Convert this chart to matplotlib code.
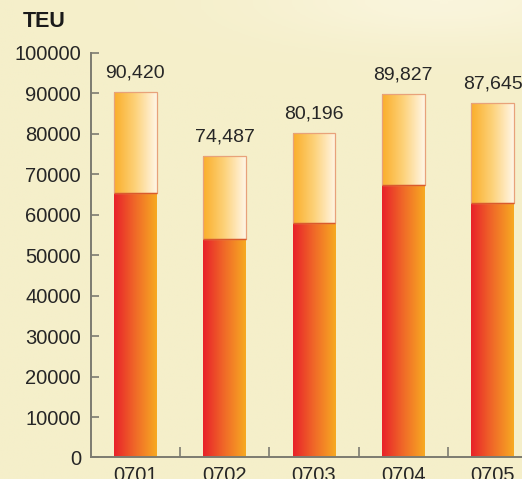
import numpy as np
import matplotlib
matplotlib.use("Agg")
import matplotlib.pyplot as plt
from matplotlib.colors import LinearSegmentedColormap

# monthly throughput, TEU
months = ["0701", "0702", "0703", "0704", "0705"]
totals = [90420, 74487, 80196, 89827, 87645]
lower = [65300, 54000, 57900, 67300, 62800]
upper = [t - l for t, l in zip(totals, lower)]

yticks = [0, 10000, 20000, 30000, 40000, 50000, 60000, 70000, 80000, 90000, 100000]

bg = "#F5EFCA"
axis_col = "#7C7B70"
text_col = "#262626"

cm_low = LinearSegmentedColormap.from_list("low", ["#E8222A", "#F06A28", "#F7A922"])
cm_up = LinearSegmentedColormap.from_list("up", ["#FAAE2A", "#FDD27A", "#FFF6E6"])

plt.rcParams["font.family"] = ["Liberation Sans", "DejaVu Sans"]

fig = plt.figure(figsize=(5.22, 4.79), dpi=100)
fig.patch.set_facecolor(bg)

# soft highlight in the background, top right
bgax = fig.add_axes([0, 0, 1, 1], zorder=-5)
gx, gy = np.meshgrid(np.linspace(0, 1, 200), np.linspace(0, 1, 200))
glow = np.exp(-(((gx - 0.85) / 0.35) ** 2 + ((gy - 1.0) / 0.09) ** 2))
bgcm = LinearSegmentedColormap.from_list("bg", [bg, "#FAF5DC"])
bgax.imshow(glow, cmap=bgcm, extent=[0, 1, 0, 1], origin="lower", aspect="auto", vmin=0, vmax=1)
bgax.axis("off")

ax = fig.add_axes([0.1738, 0.0449, 0.8554, 0.8445])
ax.set_facecolor("none")

x = np.arange(len(months))
w = 0.48
grad = np.linspace(0, 1, 100).reshape(1, -1)

bars_low = ax.bar(x, lower, width=w, color="none", edgecolor="none")
bars_up = ax.bar(x, upper, bottom=lower, width=w, color="none", edgecolor="none")

for bars, cm in ((bars_low, cm_low), (bars_up, cm_up)):
    for p in bars:
        x0, y0 = p.get_x(), p.get_y()
        im = ax.imshow(grad, cmap=cm, aspect="auto",
                       extent=[x0, x0 + p.get_width(), y0, y0 + p.get_height()],
                       zorder=1)
        im.set_clip_path(p)

# thin outline on the upper part, drawn over the gradient
ax.bar(x, upper, bottom=lower, width=w, color="none", edgecolor="#E8A27A",
       linewidth=0.9, zorder=2)
# boundary line between the two parts
ax.hlines(lower, x - w / 2, x + w / 2, colors="#DA5A2C", linewidth=1.0, zorder=3)

for xi, t in zip(x, totals):
    ax.text(xi, t + 2600, f"{t:,}", ha="center", va="bottom", fontsize=14, color=text_col)

ax.set_xlim(-0.5, 4.5)
ax.set_ylim(0, 100000)
ax.set_yticks(yticks)
ax.set_yticklabels([str(v) for v in yticks])
ax.set_xticks(x)
ax.set_xticklabels(months)
ax.set_xticks(x[:-1] + 0.5, minor=True)

for s in ("top", "right"):
    ax.spines[s].set_visible(False)
for s in ("left", "bottom"):
    ax.spines[s].set_color(axis_col)
    ax.spines[s].set_linewidth(1.4)

ax.tick_params(axis="y", direction="in", length=6, width=1.2, color=axis_col,
               labelsize=14.5, labelcolor=text_col, pad=7)
ax.tick_params(axis="x", which="major", length=0, labelsize=14.5, labelcolor=text_col, pad=6)
ax.tick_params(axis="x", which="minor", direction="in", length=7, width=1.2, color=axis_col)

fig.text(0.044, 0.955, "TEU", fontsize=15.5, fontweight="bold", color="#1A1A1A", va="center")

fig.savefig("out.png", dpi=100, facecolor=fig.get_facecolor())
